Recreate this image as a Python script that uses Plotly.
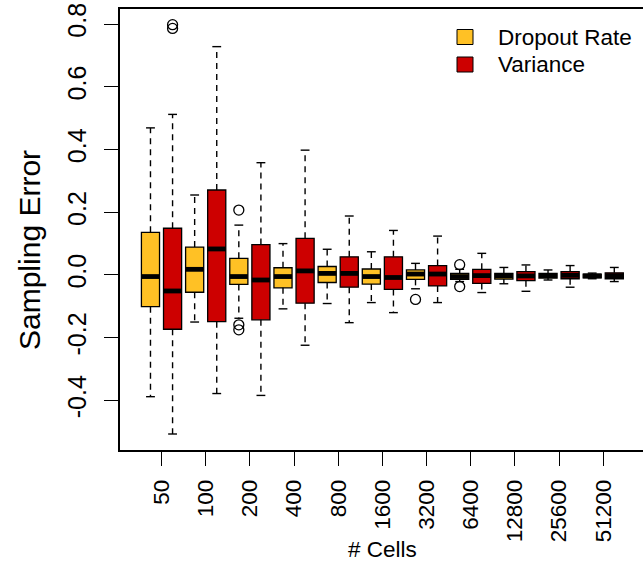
import plotly.graph_objects as go

# ---------------- data ----------------
cells = ["50", "100", "200", "400", "800", "1600", "3200", "6400", "12800", "25600", "51200"]
series_names = ["Dropout Rate", "Variance"]
series_colors = ["#FFC125", "#CD0000"]

dropout_low = [-0.388, -0.150, -0.138, -0.108, -0.091, -0.088, -0.044, -0.021, -0.028, -0.016, -0.012]
dropout_q1 = [-0.101, -0.055, -0.030, -0.041, -0.024, -0.029, -0.014, -0.014, -0.013, -0.010, -0.009]
dropout_med = [-0.005, 0.018, -0.005, -0.005, 0.005, -0.005, 0.003, -0.005, -0.003, -0.002, -0.003]
dropout_q3 = [0.136, 0.089, 0.053, 0.023, 0.027, 0.019, 0.016, 0.005, 0.005, 0.005, 0.003]
dropout_high = [0.469, 0.255, 0.159, 0.100, 0.082, 0.074, 0.037, 0.018, 0.024, 0.016, 0.006]
dropout_out_group = [2, 2, 2, 6, 7, 7]
dropout_out_val = [0.207, -0.159, -0.175, -0.078, 0.033, -0.037]

variance_low = [-0.507, -0.378, -0.384, -0.224, -0.152, -0.120, -0.088, -0.056, -0.052, -0.039, -0.021]
variance_q1 = [-0.173, -0.149, -0.143, -0.090, -0.039, -0.046, -0.035, -0.027, -0.018, -0.012, -0.012]
variance_med = [-0.051, 0.083, -0.016, 0.013, 0.005, -0.008, 0.003, -0.002, -0.003, -0.001, -0.002]
variance_q3 = [0.149, 0.271, 0.097, 0.117, 0.058, 0.058, 0.030, 0.018, 0.011, 0.011, 0.007]
variance_high = [0.512, 0.728, 0.358, 0.398, 0.188, 0.142, 0.124, 0.069, 0.032, 0.030, 0.024]
variance_out_group = [0, 0]
variance_out_val = [0.798, 0.786]

y_ticks = [-0.4, -0.2, 0.0, 0.2, 0.4, 0.6, 0.8]
y_tick_labels = ["-0.4", "-0.2", "0.0", "0.2", "0.4", "0.6", "0.8"]

# ---------------- style ----------------
FONT = "Liberation Sans, Arial, Helvetica, sans-serif"
FS = 22.5
YTICK_FS = 25
YLAB_FS = 30
BOX_W = 0.41
CAP_HALF = 0.1
OFFSETS = [-0.25, 0.25]

series = [
    dict(low=dropout_low, q1=dropout_q1, med=dropout_med, q3=dropout_q3, high=dropout_high,
         og=dropout_out_group, ov=dropout_out_val),
    dict(low=variance_low, q1=variance_q1, med=variance_med, q3=variance_q3, high=variance_high,
         og=variance_out_group, ov=variance_out_val),
]

fig = go.Figure()
groups = list(range(len(cells)))

for k, s in enumerate(series):
    xs = [g + OFFSETS[k] for g in groups]
    wx, wy, cx, cy, mx, my = [], [], [], [], [], []
    for x, lo, q1, md, q3, hi in zip(xs, s["low"], s["q1"], s["med"], s["q3"], s["high"]):
        wx += [x, x, None, x, x, None]
        wy += [q3, hi, None, q1, lo, None]
        cx += [x - CAP_HALF, x + CAP_HALF, None, x - CAP_HALF, x + CAP_HALF, None]
        cy += [hi, hi, None, lo, lo, None]
        mx += [x - BOX_W / 2, x + BOX_W / 2, None]
        my += [md, md, None]
    fig.add_trace(go.Scatter(x=wx, y=wy, mode="lines", showlegend=False, hoverinfo="skip",
                             line=dict(color="black", width=1.4, dash="6px,5px")))
    fig.add_trace(go.Scatter(x=cx, y=cy, mode="lines", showlegend=False, hoverinfo="skip",
                             line=dict(color="black", width=1.4)))
    fig.add_trace(go.Bar(x=xs, base=s["q1"], y=[b - a for a, b in zip(s["q1"], s["q3"])],
                         width=BOX_W, showlegend=False, name=series_names[k],
                         marker=dict(color=series_colors[k], line=dict(color="black", width=1.3))))
    fig.add_trace(go.Scatter(x=mx, y=my, mode="lines", showlegend=False, hoverinfo="skip",
                             line=dict(color="black", width=4.8)))
    fig.add_trace(go.Scatter(x=[g + OFFSETS[k] for g in s["og"]], y=s["ov"], mode="markers",
                             showlegend=False, hoverinfo="skip",
                             marker=dict(symbol="circle-open", size=10, color="black",
                                         line=dict(width=1.3, color="black"))))

# ---------------- layout ----------------
L, R, T, B = 120, 0, 9, 113
W, H = 643, 563
fig.update_layout(
    width=W, height=H,
    margin=dict(l=L, r=R, t=T, b=B, pad=0),
    paper_bgcolor="white", plot_bgcolor="white",
    barmode="overlay",
    font=dict(family=FONT, size=FS, color="black"),
    showlegend=False,
)
fig.update_xaxes(range=[-0.94, 10.90], tickmode="array", tickvals=groups, ticktext=cells,
                 tickangle=-90, ticks="outside", ticklen=14, tickwidth=1.3, tickcolor="black",
                 showline=True, linecolor="black", linewidth=1.5, mirror=True,
                 showgrid=False, zeroline=False, ticklabelstandoff=5,
                 tickfont=dict(family=FONT, size=FS))
fig.update_yaxes(range=[-0.558, 0.848], tickmode="array", tickvals=y_ticks, ticktext=y_tick_labels,
                 tickangle=-90, ticks="outside", ticklen=14, tickwidth=1.3, tickcolor="black",
                 showline=True, linecolor="black", linewidth=1.5, mirror=False,
                 showgrid=False, zeroline=False, ticklabelstandoff=8,
                 tickfont=dict(family=FONT, size=YTICK_FS))

pw, ph = W - L - R, H - T - B
def px_x(p):
    return (p - L) / pw
def px_y(p):
    return (H - B - p) / ph

annotations = [
    dict(text="Sampling Error", xref="paper", yref="paper", x=px_x(29), y=px_y(250),
         textangle=-90, showarrow=False, xanchor="center", yanchor="middle",
         font=dict(family=FONT, size=YLAB_FS)),
    dict(text="# Cells", xref="paper", yref="paper", x=px_x(382), y=px_y(549),
         showarrow=False, xanchor="center", yanchor="middle", font=dict(family=FONT, size=FS)),
]
shapes = []
legend_rows = [37, 64.5]
for name, col, yc in zip(series_names, series_colors, legend_rows):
    shapes.append(dict(type="rect", xref="paper", yref="paper",
                       x0=px_x(457), x1=px_x(473), y0=px_y(yc + 7.5), y1=px_y(yc - 7.5),
                       fillcolor=col, line=dict(color="black", width=1)))
    annotations.append(dict(text=name, xref="paper", yref="paper", x=px_x(496), y=px_y(yc),
                            showarrow=False, xanchor="left", yanchor="middle",
                            font=dict(family=FONT, size=FS)))
fig.update_layout(annotations=annotations, shapes=shapes)

fig.write_html("out.html")
